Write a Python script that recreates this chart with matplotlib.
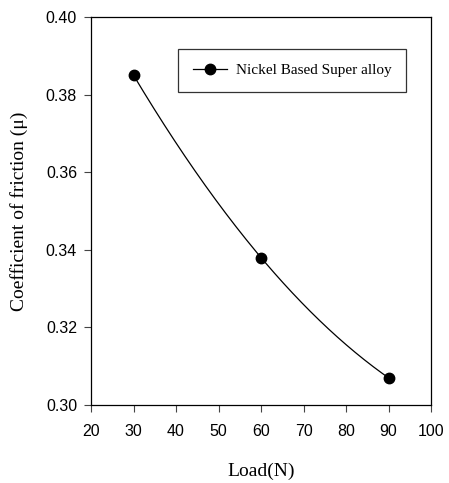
import numpy as np
import matplotlib
matplotlib.use("Agg")
import matplotlib.pyplot as plt

# friction test results
load_n = [30, 60, 90]
cof = [0.385, 0.338, 0.307]
series_name = "Nickel Based Super alloy"

x_ticks = [20, 30, 40, 50, 60, 70, 80, 90, 100]
y_ticks = [0.30, 0.32, 0.34, 0.36, 0.38, 0.40]

serif = ["Liberation Serif", "DejaVu Serif"]
sans = ["Liberation Sans", "DejaVu Sans"]

fig = plt.figure(figsize=(4.49, 4.83), dpi=100)
ax = fig.add_axes([0.2027, 0.1615, 0.7573, 0.8033])

# smooth curve through the measured points
coef = np.polyfit(load_n, cof, 2)
xs = np.linspace(min(load_n), max(load_n), 200)
ax.plot(xs, np.polyval(coef, xs), color="black", lw=0.9, zorder=2)
ax.plot(load_n, cof, linestyle="none", marker="o", ms=7.5,
        color="black", zorder=3)

# legend proxy: line with marker
ax.plot([], [], color="black", lw=0.9, marker="o", ms=7.5, label=series_name)

ax.set_xlim(20, 100)
ax.set_ylim(0.30, 0.40)
ax.set_xticks(x_ticks)
ax.set_yticks(y_ticks)
ax.set_xticklabels([str(v) for v in x_ticks], family=sans, fontsize=11.5)
ax.set_yticklabels([f"{v:.2f}" for v in y_ticks], family=sans, fontsize=11.5)
ax.tick_params(axis="both", direction="out", length=5, width=0.8, color="#444444")
ax.tick_params(axis="x", pad=9)
ax.tick_params(axis="y", pad=5)

for side in ax.spines.values():
    side.set_linewidth(0.9)
    side.set_color("black")

ax.set_xlabel("Load(N)", family=serif, fontsize=14, labelpad=17)
ax.set_ylabel("Coefficient of friction (\u03bc)", family=serif, fontsize=14, labelpad=13)

leg = ax.legend(loc="upper right", bbox_to_anchor=(0.926, 0.918),
                prop={"family": serif, "size": 11}, frameon=True, fancybox=False,
                borderpad=0.95, handlelength=2.2, handletextpad=0.6,
                borderaxespad=0)
leg.get_frame().set_edgecolor("black")
leg.get_frame().set_linewidth(0.9)

fig.savefig("out.png", dpi=100)
